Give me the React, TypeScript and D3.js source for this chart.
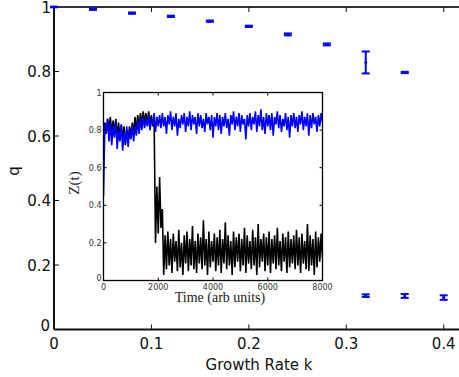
import React from "react";
import * as d3 from "d3";

// Main plot data
const kValues = [0, 0.04, 0.08, 0.12, 0.16, 0.2, 0.24, 0.28, 0.32, 0.36];
const qHigh = [1.0, 0.993, 0.981, 0.971, 0.956, 0.94, 0.915, 0.884, 0.828, 0.797];
const qHighErr = [0.001, 0.002, 0.002, 0.002, 0.002, 0.002, 0.003, 0.003, 0.034, 0.002];
const kLow = [0.32, 0.36, 0.4];
const qLow = [0.105, 0.104, 0.099];
const qLowErr = [0.004, 0.006, 0.007];

const xTicks = [0, 0.1, 0.2, 0.3, 0.4];
const yTicks = [0, 0.2, 0.4, 0.6, 0.8, 1];

// Inset data: Z(t) sampled every 50 time units from 0 to 8000
const dt = 50;
const blueSeries = [
  0.45, 0.83, 0.78, 0.86, 0.74, 0.84, 0.72, 0.82, 0.76, 0.85, 0.70, 0.80, 0.74, 0.83, 0.69, 0.79,
  0.73, 0.82, 0.71, 0.80, 0.75, 0.83, 0.74, 0.82, 0.77, 0.85, 0.78, 0.86, 0.80, 0.87, 0.81, 0.86,
  0.82, 0.88, 0.80, 0.86, 0.83, 0.89, 0.79, 0.87, 0.82,
  0.88, 0.81, 0.89, 0.82, 0.87, 0.78, 0.88, 0.83, 0.90, 0.80, 0.87, 0.82, 0.89, 0.77, 0.86, 0.81,
  0.88, 0.83, 0.89, 0.79, 0.87, 0.82, 0.90, 0.80, 0.88, 0.83, 0.87, 0.78, 0.89, 0.82, 0.88, 0.81,
  0.86, 0.79, 0.89, 0.83, 0.87, 0.80, 0.88, 0.76, 0.87, 0.82, 0.89, 0.80, 0.88, 0.78, 0.87, 0.82,
  0.89, 0.81, 0.86, 0.77, 0.88, 0.83, 0.90, 0.80, 0.87, 0.82, 0.89, 0.79, 0.88, 0.83, 0.86, 0.75,
  0.88, 0.82, 0.89, 0.80, 0.87, 0.83, 0.90, 0.79, 0.88, 0.82, 0.91, 0.80, 0.87, 0.78, 0.89, 0.82,
  0.88, 0.80, 0.89, 0.77, 0.87, 0.83, 0.90, 0.81, 0.88, 0.79, 0.86, 0.82, 0.89, 0.80, 0.87, 0.76,
  0.88, 0.82, 0.89, 0.81, 0.87, 0.79, 0.88, 0.83, 0.90, 0.80, 0.87, 0.82, 0.89, 0.77, 0.88, 0.81,
  0.89, 0.83, 0.87, 0.79, 0.88, 0.82, 0.89, 0.84,
];
const blackSeries = [
  0.80, 0.84, 0.79, 0.86, 0.80, 0.87, 0.78, 0.85, 0.79, 0.86, 0.77, 0.84, 0.76, 0.83, 0.75, 0.82,
  0.72, 0.80, 0.74, 0.82, 0.76, 0.84, 0.78, 0.87, 0.80, 0.88, 0.82, 0.89, 0.83, 0.90, 0.84, 0.89,
  0.83, 0.90, 0.84, 0.88, 0.82, 0.84,
  0.20, 0.50, 0.25, 0.55, 0.28, 0.38, 0.03, 0.24,
  0.06, 0.26, 0.08, 0.22, 0.04, 0.25, 0.10, 0.21, 0.05, 0.27, 0.07, 0.20, 0.03, 0.24, 0.09, 0.26,
  0.05, 0.22, 0.08, 0.29, 0.06, 0.21, 0.04, 0.25, 0.09, 0.23, 0.06, 0.32, 0.08, 0.22, 0.03, 0.26,
  0.07, 0.21, 0.10, 0.25, 0.05, 0.23, 0.08, 0.27, 0.04, 0.22, 0.09, 0.31, 0.06, 0.24, 0.08, 0.21,
  0.03, 0.26, 0.07, 0.23, 0.10, 0.25, 0.05, 0.22, 0.08, 0.28, 0.04, 0.24, 0.09, 0.21, 0.06, 0.27,
  0.08, 0.23, 0.03, 0.30, 0.07, 0.22, 0.10, 0.25, 0.05, 0.23, 0.08, 0.26, 0.04, 0.22, 0.09, 0.24,
  0.06, 0.28, 0.08, 0.21, 0.05, 0.25, 0.10, 0.23, 0.04, 0.26, 0.07, 0.22, 0.09, 0.24, 0.06, 0.27,
  0.08, 0.23, 0.04, 0.25, 0.09, 0.21, 0.06, 0.30, 0.05, 0.24, 0.08, 0.22, 0.03, 0.26, 0.07, 0.23,
  0.10, 0.25, 0.12,
];
const insetXTicks = [0, 2000, 4000, 6000, 8000];
const insetYTicks = [0, 0.2, 0.4, 0.6, 0.8, 1];

const W = 459;
const H = 377;
const SANS = "DejaVu Sans, sans-serif";
const SERIF = "Liberation Serif, Times New Roman, serif";

export default function App() {
  const x = d3.scaleLinear().domain([0, 0.4]).range([54, 443.7]);
  const y = d3.scaleLinear().domain([0, 1]).range([329.5, 7]);

  const xi = d3.scaleLinear().domain([0, 8000]).range([103.5, 322.5]);
  const yi = d3.scaleLinear().domain([0, 1]).range([280.5, 92.5]);

  const line = d3
    .line<number>()
    .x((_, i) => xi(i * dt))
    .y((d) => yi(d));

  const blue = "#0000ff";
  const capW = 4;

  const errBars = (ks: number[], qs: number[], es: number[], key: string) =>
    ks.map((k, i) => {
      const cx = x(k);
      const y1 = y(qs[i] + es[i]);
      const y2 = y(qs[i] - es[i]);
      return (
        <g key={key + i} stroke={blue} strokeWidth={2} fill="none">
          <line x1={cx} x2={cx} y1={y1} y2={y2} />
          <line x1={cx - capW} x2={cx + capW} y1={y1} y2={y1} />
          <line x1={cx - capW} x2={cx + capW} y1={y2} y2={y2} />
          <circle cx={cx} cy={y(qs[i])} r={1.5} fill={blue} stroke="none" />
        </g>
      );
    });

  return (
    <svg
      width={W}
      height={H}
      style={{ position: "absolute", left: 0, top: 0, background: "#fff" }}
    >
      <rect x={0} y={0} width={W} height={H} fill="#fff" />

      {/* main frame */}
      <line x1={54} x2={W} y1={y(1)} y2={y(1)} stroke="#333" strokeWidth={2} />
      <line x1={54} x2={W} y1={y(0)} y2={y(0)} stroke="#111" strokeWidth={2} />
      <line x1={54} x2={54} y1={y(1)} y2={y(0)} stroke="#111" strokeWidth={2} />

      {/* main ticks */}
      {xTicks.slice(1).map((t) => (
        <g key={"xt" + t} stroke="#111" strokeWidth={1}>
          <line x1={x(t)} x2={x(t)} y1={y(0)} y2={y(0) - 5} />
          <line x1={x(t)} x2={x(t)} y1={y(1)} y2={y(1) + 5} />
        </g>
      ))}
      {yTicks.slice(1, -1).map((t) => (
        <line key={"yt" + t} x1={54} x2={59} y1={y(t)} y2={y(t)} stroke="#111" strokeWidth={1} />
      ))}

      {/* main tick labels */}
      {xTicks.map((t) => (
        <text
          key={"xl" + t}
          x={x(t)}
          y={y(0) + 19}
          textAnchor="middle"
          fontFamily={SANS}
          fontSize={15}
          fill="#111"
        >
          {d3.format("~g")(t)}
        </text>
      ))}
      {yTicks.map((t) => (
        <text
          key={"yl" + t}
          x={t === 0 ? 50 : 51}
          y={t === 0 ? y(t) + 1 : y(t) + 5.5}
          textAnchor="end"
          fontFamily={SANS}
          fontSize={15}
          fill="#111"
        >
          {d3.format("~g")(t)}
        </text>
      ))}

      {/* axis labels */}
      <text x={259} y={370} textAnchor="middle" fontFamily={SANS} fontSize={15} fill="#111">
        Growth Rate k
      </text>
      <text
        transform={`translate(19,171) rotate(-90)`}
        textAnchor="middle"
        fontFamily={SANS}
        fontSize={15}
        fill="#111"
      >
        q
      </text>

      {/* data */}
      {errBars(kValues, qHigh, qHighErr, "h")}
      {errBars(kLow, qLow, qLowErr, "l")}

      {/* inset */}
      <rect
        x={xi(0)}
        y={yi(1)}
        width={xi(8000) - xi(0)}
        height={yi(0) - yi(1)}
        fill="#fff"
      />
      <clipPath id="insetClip">
        <rect x={xi(0)} y={yi(1)} width={xi(8000) - xi(0)} height={yi(0) - yi(1)} />
      </clipPath>
      <g clipPath="url(#insetClip)">
        <path d={line(blackSeries) || ""} fill="none" stroke="#000" strokeWidth={1.6} strokeLinejoin="bevel" />
        <path d={line(blueSeries) || ""} fill="none" stroke={blue} strokeWidth={1.6} strokeLinejoin="bevel" />
      </g>
      <rect
        x={xi(0)}
        y={yi(1)}
        width={xi(8000) - xi(0)}
        height={yi(0) - yi(1)}
        fill="none"
        stroke="#000"
        strokeWidth={1.3}
      />
      {insetXTicks.slice(1, -1).map((t) => (
        <g key={"ixt" + t} stroke="#000" strokeWidth={1}>
          <line x1={xi(t)} x2={xi(t)} y1={yi(0)} y2={yi(0) - 3} />
          <line x1={xi(t)} x2={xi(t)} y1={yi(1)} y2={yi(1) + 3} />
        </g>
      ))}
      {insetYTicks.slice(1, -1).map((t) => (
        <g key={"iyt" + t} stroke="#000" strokeWidth={1}>
          <line x1={xi(0)} x2={xi(0) + 3} y1={yi(t)} y2={yi(t)} />
          <line x1={xi(8000)} x2={xi(8000) - 3} y1={yi(t)} y2={yi(t)} />
        </g>
      ))}
      {insetXTicks.map((t) => (
        <text
          key={"ixl" + t}
          x={xi(t)}
          y={yi(0) + 9}
          textAnchor="middle"
          fontFamily={SANS}
          fontSize={8}
          fill="#333"
        >
          {d3.format("~g")(t)}
        </text>
      ))}
      {insetYTicks.map((t) => (
        <text
          key={"iyl" + t}
          x={xi(0) - 2}
          y={t === 0 ? yi(t) : yi(t) + 3}
          textAnchor="end"
          fontFamily={SANS}
          fontSize={8}
          fill="#333"
        >
          {d3.format("~g")(t)}
        </text>
      ))}
      <text x={220} y={302} textAnchor="middle" fontFamily={SERIF} fontSize={14} fill="#222">
        Time (arb units)
      </text>
      <text
        transform={`translate(79,183) rotate(-90)`}
        textAnchor="middle"
        fontFamily={SERIF}
        fontSize={15}
        fill="#222"
      >
        Z(t)
      </text>
    </svg>
  );
}
